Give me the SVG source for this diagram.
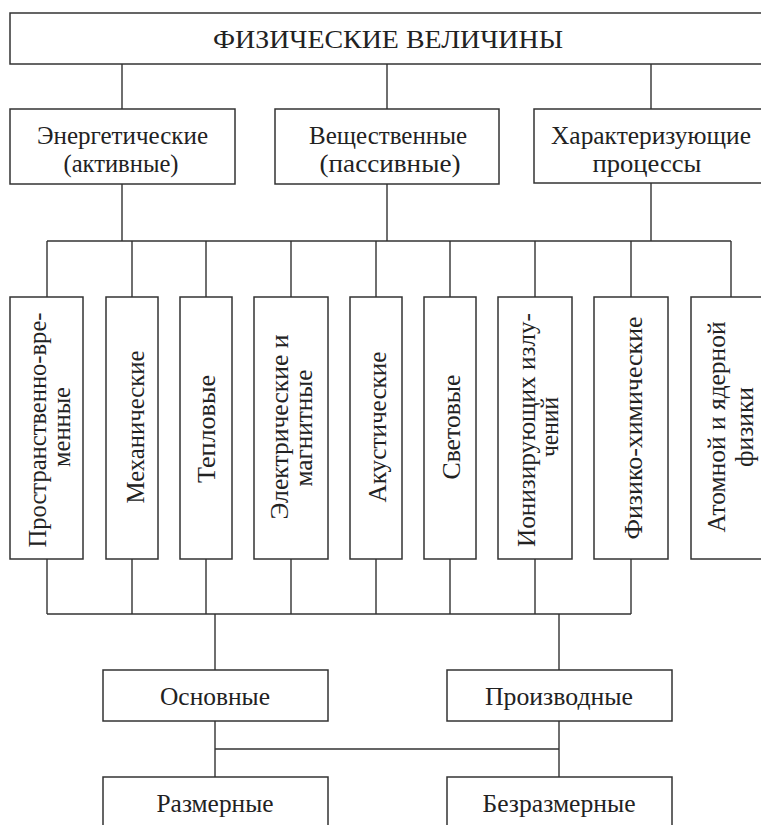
<svg xmlns="http://www.w3.org/2000/svg" width="761" height="825" viewBox="0 0 761 825">
<style>
.box{fill:#fff;stroke:#333;stroke-width:1.5}
.ln{fill:none;stroke:#333;stroke-width:1.4}
.t{font-family:'Liberation Serif','DejaVu Serif',serif;font-size:26px;fill:#222;text-anchor:middle}
</style>
<rect width="761" height="825" fill="#fff"/>
<g id="connectors" class="ln">
<path d="M122,64V109M387,64V109M651,64V109"/>
<path d="M122,184V241M387,184V241M651,183V241M47,241H731"/>
<path d="M47,241V297M132,241V297M206,241V297M291,241V297M376,241V297M450,241V297M535,241V297M631,241V297M731,241V297"/>
<path d="M47,559V614M132,559V614M206,559V614M291,559V614M376,559V614M450,559V614M535,559V614M631,559V614M47,614H631"/>
<path d="M215,614V670M559,614V670"/>
<path d="M215,721V777M559,721V777M215,749H559"/>
</g>
<g class="t" font-family="Liberation Serif, DejaVu Serif, serif">
<g id="n-title"><rect class="box" x="10" y="13" width="758" height="51"/><text x="388" y="48" textLength="350" lengthAdjust="spacingAndGlyphs">ФИЗИЧЕСКИЕ ВЕЛИЧИНЫ</text></g>
<g id="n-energ"><rect class="box" x="10" y="109" width="225" height="75"/><text x="122.5" y="144" textLength="171" lengthAdjust="spacingAndGlyphs">Энергетические</text><text x="121" y="172" textLength="115" lengthAdjust="spacingAndGlyphs">(активные)</text></g>
<g id="n-veshch"><rect class="box" x="275" y="109" width="224" height="75"/><text x="388" y="144" textLength="158" lengthAdjust="spacingAndGlyphs">Вещественные</text><text x="390" y="172" textLength="141" lengthAdjust="spacingAndGlyphs">(пассивные)</text></g>
<g id="n-proc"><rect class="box" x="534" y="109" width="234" height="74"/><text x="651" y="144" textLength="200" lengthAdjust="spacingAndGlyphs">Характеризующие</text><text x="647" y="172" textLength="109" lengthAdjust="spacingAndGlyphs">процессы</text></g>
<g id="n-prost"><rect class="box" x="10" y="297" width="73" height="262"/><text transform="rotate(-90 46 430)" x="46" y="430" textLength="235" lengthAdjust="spacingAndGlyphs">Пространственно-вре-</text><text transform="rotate(-90 70 427)" x="70" y="427" textLength="80" lengthAdjust="spacingAndGlyphs">менные</text></g>
<g id="n-mech"><rect class="box" x="106" y="297" width="52" height="262"/><text transform="rotate(-90 144 427)" x="144" y="427" textLength="153" lengthAdjust="spacingAndGlyphs">Механические</text></g>
<g id="n-tepl"><rect class="box" x="180" y="297" width="52" height="262"/><text transform="rotate(-90 215 429)" x="215" y="429" textLength="108" lengthAdjust="spacingAndGlyphs">Тепловые</text></g>
<g id="n-elec"><rect class="box" x="254" y="297" width="74" height="262"/><text transform="rotate(-90 288 427)" x="288" y="427" textLength="185" lengthAdjust="spacingAndGlyphs">Электрические и</text><text transform="rotate(-90 312 428)" x="312" y="428" textLength="117" lengthAdjust="spacingAndGlyphs">магнитные</text></g>
<g id="n-akust"><rect class="box" x="350" y="297" width="52" height="262"/><text transform="rotate(-90 386 427)" x="386" y="427" textLength="151" lengthAdjust="spacingAndGlyphs">Акустические</text></g>
<g id="n-svet"><rect class="box" x="424" y="297" width="52" height="262"/><text transform="rotate(-90 460 427)" x="460" y="427" textLength="105" lengthAdjust="spacingAndGlyphs">Световые</text></g>
<g id="n-ion"><rect class="box" x="498" y="297" width="74" height="262"/><text transform="rotate(-90 535 430)" x="535" y="430" textLength="234" lengthAdjust="spacingAndGlyphs">Ионизирующих излу-</text><text transform="rotate(-90 558 427)" x="558" y="427" textLength="60" lengthAdjust="spacingAndGlyphs">чений</text></g>
<g id="n-fizchem"><rect class="box" x="594" y="297" width="74" height="262"/><text transform="rotate(-90 642 428)" x="642" y="428" textLength="223" lengthAdjust="spacingAndGlyphs">Физико-химические</text></g>
<g id="n-atom"><rect class="box" x="691" y="297" width="80" height="262"/><text transform="rotate(-90 725 427)" x="725" y="427" textLength="211" lengthAdjust="spacingAndGlyphs">Атомной и ядерной</text><text transform="rotate(-90 753 427)" x="753" y="427" textLength="80" lengthAdjust="spacingAndGlyphs">физики</text></g>
<g id="n-osn"><rect class="box" x="103" y="670" width="225" height="51"/><text x="215" y="705" textLength="110" lengthAdjust="spacingAndGlyphs">Основные</text></g>
<g id="n-proizv"><rect class="box" x="447" y="670" width="225" height="51"/><text x="559" y="705" textLength="148" lengthAdjust="spacingAndGlyphs">Производные</text></g>
<g id="n-razm"><rect class="box" x="103" y="777" width="225" height="70"/><text x="215" y="812" textLength="117" lengthAdjust="spacingAndGlyphs">Размерные</text></g>
<g id="n-bezr"><rect class="box" x="447" y="777" width="225" height="70"/><text x="559" y="812" textLength="153" lengthAdjust="spacingAndGlyphs">Безразмерные</text></g>
</g>
</svg>
